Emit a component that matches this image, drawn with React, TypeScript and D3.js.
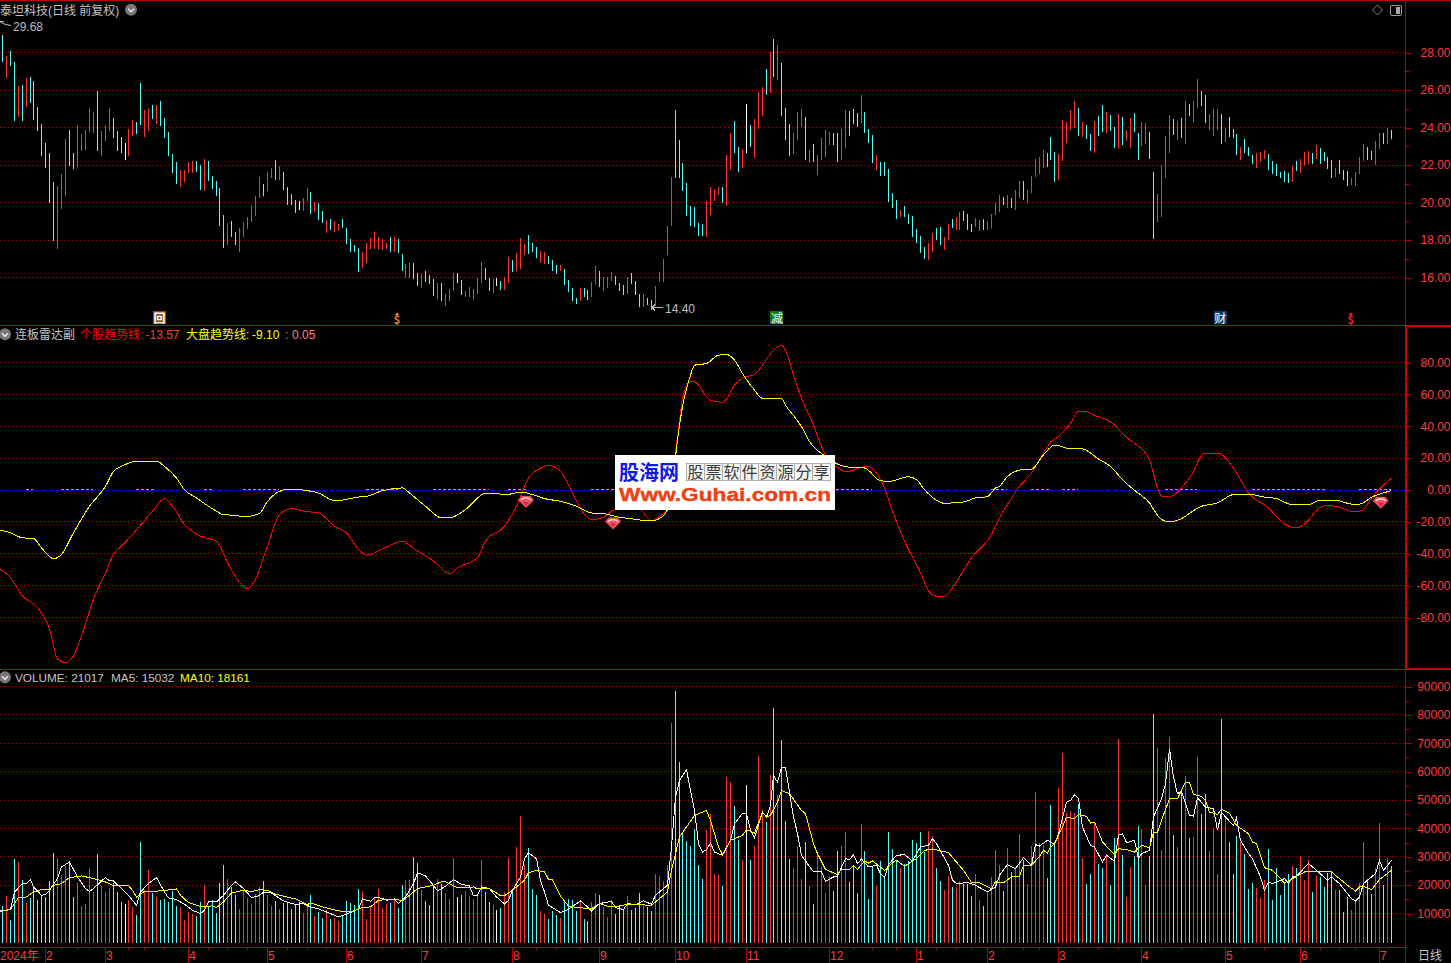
import { useEffect, useRef } from 'react';
import * as d3 from 'd3';

// Daily high / low, one entry per session (352 sessions)
const highs = [
    28.92, 27.80, 28.07, 27.48, 26.21, 26.26, 26.63, 26.68, 26.47, 25.08,
    24.18, 23.17, 22.63, 21.08, 20.87, 21.51, 23.38, 23.86, 22.63, 24.12,
    23.64, 23.86, 25.03, 24.82, 25.94, 23.80, 24.12, 25.03, 24.50, 23.80,
    23.48, 23.17, 23.91, 24.39, 24.28, 26.36, 24.92, 25.03, 25.19, 25.19,
    25.40, 24.50, 23.75, 22.58, 22.15, 21.72, 21.72, 22.15, 22.20, 22.20,
    21.99, 22.31, 22.20, 21.40, 21.14, 20.76, 19.32, 18.90, 19.00, 18.42,
    18.63, 18.95, 19.22, 19.86, 20.34, 21.35, 20.98, 21.62, 21.83, 22.26,
    21.94, 21.62, 20.82, 20.44, 20.12, 20.07, 20.23, 20.76, 20.55, 20.02,
    19.97, 19.54, 19.06, 19.11, 19.00, 18.84, 19.11, 18.63, 18.04, 17.72,
    17.56, 17.35, 17.83, 18.10, 18.42, 18.15, 18.04, 17.83, 18.15, 18.15,
    18.04, 17.24, 16.71, 16.76, 16.76, 16.23, 16.18, 16.34, 16.12, 15.91,
    15.70, 15.70, 15.11, 15.38, 16.23, 16.23, 15.86, 15.27, 15.48, 15.38,
    15.96, 16.82, 16.50, 15.96, 15.91, 15.96, 15.80, 16.02, 17.08, 16.92,
    17.30, 18.10, 17.78, 18.26, 17.83, 17.62, 17.40, 17.35, 17.14, 16.92,
    16.66, 16.66, 16.44, 15.86, 15.43, 14.90, 15.43, 15.43, 15.32, 15.75,
    16.60, 16.34, 16.02, 16.02, 16.28, 16.07, 15.70, 15.59, 16.02, 16.23,
    15.80, 15.11, 15.11, 14.90, 14.79, 15.54, 16.28, 16.98, 18.74, 21.35,
    24.92, 23.32, 22.10, 21.03, 19.80, 19.75, 18.90, 18.84, 20.07, 20.82,
    20.71, 20.82, 20.82, 22.52, 23.70, 24.34, 22.95, 22.84, 25.24, 24.12,
    24.44, 25.88, 26.15, 27.11, 28.02, 28.71, 28.39, 27.43, 25.03, 24.18,
    23.70, 24.82, 24.98, 24.55, 22.79, 23.11, 22.52, 23.43, 23.86, 23.75,
    23.70, 23.70, 23.91, 24.92, 24.87, 24.98, 24.76, 25.72, 24.82, 23.91,
    23.59, 22.52, 22.15, 22.15, 21.78, 20.50, 20.12, 19.59, 19.80, 19.38,
    19.27, 18.58, 18.20, 17.62, 17.83, 18.36, 18.63, 18.68, 18.15, 18.84,
    19.11, 19.22, 19.48, 19.54, 19.38, 18.84, 19.16, 19.06, 19.11, 19.00,
    19.38, 19.97, 20.39, 20.28, 20.39, 20.23, 20.66, 21.14, 21.14, 20.66,
    21.40, 22.31, 22.42, 22.79, 22.63, 23.48, 22.68, 22.58, 24.39, 24.28,
    24.92, 25.40, 25.03, 24.28, 24.12, 23.64, 24.34, 24.60, 25.19, 24.82,
    24.66, 24.02, 24.71, 24.55, 23.86, 24.50, 24.76, 23.70, 24.28, 24.23,
    23.75, 21.62, 20.44, 21.99, 23.54, 24.66, 24.44, 24.34, 24.50, 25.40,
    25.24, 25.40, 26.58, 25.94, 25.72, 24.71, 24.98, 24.98, 24.71, 23.96,
    24.55, 23.91, 23.64, 22.95, 23.38, 22.95, 22.52, 22.63, 22.68, 22.79,
    22.58, 22.20, 22.04, 21.62, 21.67, 21.56, 21.94, 22.20, 22.31, 22.68,
    22.74, 22.63, 23.06, 22.90, 22.68, 22.42, 22.26, 21.83, 22.26, 21.72,
    21.67, 21.30, 21.62, 22.42, 23.11, 22.95, 22.74, 23.27, 23.70, 23.70,
    23.96, 23.86,
];
const lows = [
    27.50, 26.65, 27.29, 24.36, 24.57, 24.36, 25.10, 25.32, 24.41, 23.82,
    22.49, 21.85, 19.98, 17.95, 17.53, 19.66, 20.35, 21.94, 21.79, 21.90,
    22.74, 22.79, 23.75, 23.71, 22.74, 22.49, 23.29, 23.82, 23.45, 22.74,
    22.63, 22.26, 22.47, 23.54, 23.64, 24.12, 23.48, 23.80, 24.44, 24.18,
    24.07, 23.43, 22.47, 21.58, 20.98, 20.82, 21.08, 21.56, 21.56, 21.62,
    20.66, 20.60, 21.14, 20.71, 20.34, 18.74, 17.56, 17.72, 18.15, 17.72,
    17.35, 18.15, 18.58, 18.95, 19.27, 20.23, 20.34, 20.60, 21.30, 21.19,
    21.19, 20.66, 19.86, 19.86, 19.43, 19.59, 19.54, 20.07, 19.38, 19.48,
    19.06, 18.90, 18.36, 18.52, 18.42, 18.47, 18.63, 17.78, 17.35, 17.35,
    16.28, 16.50, 16.76, 17.51, 17.51, 17.51, 17.46, 17.51, 17.35, 17.35,
    17.30, 16.34, 15.96, 15.96, 15.91, 15.54, 15.43, 15.75, 15.64, 15.00,
    14.84, 14.74, 14.47, 14.74, 15.27, 15.70, 15.06, 14.95, 14.95, 14.79,
    15.11, 15.70, 15.86, 15.27, 15.16, 15.54, 15.32, 15.32, 15.70, 16.28,
    16.34, 16.44, 17.19, 17.24, 17.35, 17.03, 16.76, 16.71, 16.71, 16.34,
    16.18, 16.34, 15.59, 15.22, 14.74, 14.58, 14.74, 14.95, 14.79, 14.95,
    15.64, 15.48, 15.27, 15.43, 15.80, 15.59, 15.27, 15.06, 15.11, 15.64,
    15.06, 14.42, 14.42, 14.52, 14.26, 14.47, 15.75, 15.75, 17.19, 18.74,
    21.30, 21.30, 20.60, 19.27, 18.74, 18.68, 18.20, 18.20, 18.15, 19.32,
    20.07, 20.39, 19.97, 19.80, 21.72, 22.63, 21.62, 21.83, 22.63, 22.95,
    22.36, 23.91, 24.60, 25.72, 25.83, 26.68, 26.52, 24.60, 23.32, 22.47,
    22.58, 23.32, 24.02, 22.26, 22.10, 22.15, 21.46, 22.26, 22.42, 23.06,
    23.06, 22.15, 22.26, 22.90, 23.54, 24.18, 24.02, 24.23, 23.70, 23.17,
    22.10, 21.72, 21.40, 21.40, 20.02, 19.70, 19.11, 19.22, 19.22, 18.84,
    18.15, 17.83, 17.30, 16.98, 16.92, 17.35, 17.99, 17.72, 17.46, 17.99,
    18.63, 18.52, 18.52, 19.00, 18.52, 18.42, 18.68, 18.47, 18.52, 18.52,
    18.63, 19.32, 19.48, 19.86, 19.70, 19.70, 19.59, 20.23, 20.12, 19.97,
    20.50, 21.35, 21.51, 21.83, 21.88, 22.26, 21.08, 21.19, 22.20, 23.17,
    23.86, 23.96, 23.54, 23.48, 23.38, 22.74, 22.63, 23.54, 23.75, 23.70,
    23.80, 22.90, 22.84, 23.06, 23.27, 22.90, 23.75, 22.26, 23.00, 23.11,
    22.31, 18.04, 18.95, 19.22, 21.30, 22.63, 23.59, 23.32, 23.43, 23.11,
    24.60, 24.28, 25.03, 25.14, 24.23, 23.86, 23.54, 23.86, 23.11, 23.22,
    23.48, 23.43, 22.52, 22.26, 22.63, 22.47, 22.04, 21.83, 22.15, 22.31,
    21.72, 21.51, 21.40, 21.30, 21.08, 21.03, 21.08, 21.67, 21.56, 21.94,
    22.04, 22.04, 22.31, 22.04, 22.20, 21.78, 21.30, 21.35, 21.51, 21.19,
    20.87, 20.92, 20.87, 21.51, 22.20, 22.26, 22.26, 21.99, 22.84, 23.11,
    23.11, 23.38,
];
// c = down (cyan), r = up (red), w = flat (white)
const sessionKinds = (
    "crccrcrccc" + "ccccrrrccr" + "rrrrcrrrcc" + "cwrrccrrcr" + "cccccrrrrc" +
    "crcccccrcc" + "rrrrrrcrrc" + "rccccwrrcr" + "ccrcrrcccc" + "crrrrrrrcr" +
    "ccrrccrccc" + "rcrrrwcrrr" + "rrccrwcrrc" + "rrrcccrrcc" + "crccccrccr" +
    "rcrrrcccrc" + "ccrccrrrrr" + "ccccccccrr" + "rrcrrccrwc" + "rrrcrcrccc" +
    "rrrcrcrrrr" + "ccrrcccrcc" + "crcccccrcc" + "ccccrrccrr" + "crrcccrrcr" +
    "rrrcrcrrcr" + "rrrrcccrrr" + "rrcrccrccr" + "ccrcrrccrr" + "ccrrrrcrcr" +
    "crrccrrrcr" + "cccrcccrrr" + "ccccccrcrr" + "rcrccccrcc" + "crrrrccrrcrc"
).split("");

const volumes = [
    12550, 16070, 7625, 29090, 28035, 21700, 13610, 15370, 19590, 14660,
    16070, 15720, 21350, 31200, 29440, 23460, 26630, 28150, 15720, 20640,
    12550, 13250, 25920, 17480, 30850, 19590, 17480, 18890, 20640, 17480,
    13960, 13250, 14660, 12200, 9380, 35070, 18180, 25220, 17130, 15720,
    14660, 15010, 13960, 17830, 12550, 12200, 7625, 10440, 9740, 9030,
    13960, 19940, 12200, 14660, 10090, 20640, 26980, 22050, 19240, 16420,
    11500, 18180, 15370, 13250, 16770, 19240, 21350, 16420, 12550, 14310,
    11500, 13610, 13960, 11500, 13250, 13960, 10090, 12550, 16420, 9030,
    10440, 8330, 11140, 7980, 8330, 7270, 9380, 14310, 13610, 12900,
    18530, 17830, 7980, 12200, 15720, 18530, 11850, 13250, 13610, 15370,
    11850, 19940, 21700, 21700, 29790, 27680, 18180, 14310, 12900, 19940,
    22050, 20290, 17130, 15010, 29440, 15720, 16420, 17830, 16070, 15010,
    16070, 28740, 17480, 13960, 12900, 11140, 11850, 17480, 29440, 17830,
    33310, 44220, 26980, 32960, 18530, 16420, 10790, 9740, 7980, 10790,
    9380, 8330, 14660, 15010, 14660, 10790, 14660, 7980, 7270, 13960,
    17130, 16420, 12200, 8680, 14660, 9740, 12900, 11140, 16070, 11140,
    11850, 17130, 12900, 12200, 10790, 23810, 23110, 21470, 26980, 77300,
    88560, 63220, 37890, 35420, 33660, 39650, 26980, 22050, 39300, 44930,
    23810, 23460, 19590, 57950, 56190, 47740, 35780, 28740, 55130, 28740,
    33660, 65340, 46330, 42110, 58650, 82580, 51610, 70970, 42460, 29090,
    25920, 33660, 22050, 35070, 19590, 13250, 31200, 26280, 17130, 23110,
    17830, 31900, 33660, 38590, 20990, 26630, 17130, 41410, 31900, 15010,
    26630, 19590, 28390, 22760, 38590, 32610, 28390, 25920, 27330, 28390,
    35780, 34720, 38590, 31550, 38940, 37180, 25920, 21350, 18180, 23110,
    19240, 19240, 21350, 20290, 20290, 16070, 23810, 14660, 12550, 17830,
    22760, 32260, 26980, 17830, 32960, 24520, 26280, 37890, 28740, 20290,
    33660, 52670, 34720, 34020, 22400, 48090, 34020, 54080, 66740, 45280,
    45980, 45280, 48440, 29440, 20290, 23810, 41760, 27330, 25920, 30850,
    19940, 36480, 71670, 30500, 15720, 26280, 30150, 40700, 39650, 19940,
    30150, 80470, 68150, 32260, 64630, 72370, 37540, 33310, 53370, 58300,
    36480, 36830, 64980, 44930, 51960, 31900, 40000, 23810, 78710, 43870,
    35070, 23810, 37180, 35070, 30850, 18530, 20640, 18890, 15370, 21700,
    32610, 14660, 25920, 16420, 20990, 23810, 26630, 25920, 30150, 21700,
    28740, 17480, 23110, 22760, 19240, 24160, 24870, 18180, 18180, 10440,
    15720, 11140, 14660, 20640, 35070, 22050, 16770, 25920, 41760, 19940,
    29440, 26630,
];

// Moving averages at the sessions where they bend.
// Session -1 is the one just off the left edge.
const ma5Sessions = [
    -1, 2, 3, 5, 6, 7, 8, 10, 11, 12, 14, 15, 17, 19, 21, 22, 23, 25, 26, 27, 28, 30, 32, 33, 34, 35, 37, 39, 41, 42,
    44, 46, 48, 50, 51, 52, 54, 56, 58, 59, 61, 63, 65, 66, 68, 71, 74, 76, 78, 80, 83, 85, 88,
    90, 91, 93, 94, 96, 97, 99, 100, 102, 104, 105, 107, 109, 110, 112, 114, 116, 118, 119, 120, 121, 123, 125, 127, 128,
    129, 131, 132, 133, 135, 136, 137, 138, 139, 141, 143, 144, 146, 148, 149, 151, 154, 155, 157, 158, 160, 162, 164,
    165, 168, 169, 170, 171, 173, 175, 176,
    177, 178, 179, 180, 182, 184, 185, 187, 188, 189, 190, 192, 193, 194, 195, 196, 197, 198, 200, 201, 202, 205, 207,
    208, 210, 211, 213, 214, 215, 216, 217, 219, 221, 222, 223, 224, 226, 228, 230, 232, 234, 235, 236, 239, 240, 241,
    244, 246, 249, 251, 252, 254, 256, 258, 260, 261, 262, 264,
    266, 267, 269, 270, 271, 272, 273, 275, 276, 278, 279, 281, 282, 283, 284, 286, 287, 288, 290, 291, 293, 294, 295,
    296, 297, 298, 300, 301, 302, 304, 306, 307, 308, 309, 311, 312, 313, 315, 316, 318, 319, 320, 321, 324, 325, 326,
    327, 329, 330, 332, 335, 336, 338, 341, 342, 343, 344, 347, 348, 349, 351,
];
const ma5Values = [
    10910, 11380, 17600, 20530, 20530, 21940, 19360, 16420, 16770, 18180, 22290, 26390, 28150, 22870, 18770, 17710, 18770,
    21470, 22640, 21470, 21470, 18770, 16420, 14660, 12900, 17600, 20530, 22640, 17600, 15480,
    14900, 13250, 11140, 9970, 11140, 14080, 14080, 16420, 19940, 21110, 18770, 15600, 16300, 17600, 17240, 14430, 13140,
    13490, 12320, 11610, 9970, 8800, 10320,
    11610, 15130, 14310, 15720, 15370, 14660, 15130, 13490, 15840, 20530, 24400, 23230, 19940, 17950, 19590, 21940, 20290,
    19710, 16190, 16420, 19360, 18770, 15840, 13370, 14660,
    18180, 22870, 29210, 31440, 29330, 21700, 17600, 12900, 12080, 10320, 11500, 12550, 14430, 12320, 10910, 13490, 14310,
    12080, 11380, 13490, 13140, 14430, 13250,
    16420, 19940, 33430, 51030, 56890, 60640, 46330, 34600,
    31670, 32490, 34840, 31670, 30500, 35780, 41640, 45400, 45160, 39300, 36600, 45750, 43990, 48090, 58650, 56300, 61350,
    61350, 43990, 38120, 30500, 24630, 24870,
    21350, 22870, 23110, 29330, 28970, 30730, 27570, 29210, 26390, 26980, 24050, 22640, 27210, 30500, 30730, 28500, 33430,
    34020, 36360, 34600, 26980, 21700, 20530,
    20880, 19940, 17600, 19360, 23460, 27210, 25810, 29680, 26980, 34250, 33780, 35780,
    34370, 38120, 49270, 49850, 51850, 50440, 40470, 34020, 33430, 28150, 30500, 28390, 37540, 38120, 34960, 35780, 29330,
    31090, 32260, 43990, 50440, 55720, 68030,
    58060, 52200, 53140, 44580, 44340, 50790, 47510, 46920, 39300, 45750, 43990, 41050, 43750, 35780, 31090, 29330, 22870,
    18180, 21110, 20530, 22290, 20530, 22870,
    23110, 26160, 27570, 25220, 21700, 22870, 20530, 15250, 14430, 15840, 20530, 24050, 28740, 25220, 28740,
];
const ma10Sessions = [
    -1, 2, 4, 6, 8, 10, 12, 13, 15, 17, 20, 22, 24, 26, 28, 32, 33, 34, 36, 40, 44, 45, 47, 50, 53, 54, 56, 58, 61, 63, 65,
    67, 69, 74, 77, 78, 81, 85, 88,
    91, 93, 95, 99, 101, 105, 109, 111, 112, 115, 117, 119, 120, 123, 126, 127, 129, 132, 133, 135, 137, 138, 139, 141,
    143, 145, 149, 151, 153, 155, 158, 164, 168, 169, 171, 175, 176,
    178, 179, 181, 182, 184, 187, 188, 190, 192, 193, 194, 196, 197, 199, 202, 203, 205, 206, 208, 211, 212, 214, 215,
    216, 218, 219, 220, 223, 225, 226, 228, 231, 233, 235, 239, 243, 245, 247, 250, 251, 253, 255, 257, 258, 260, 262,
    263, 264,
    265, 266, 268, 269, 271, 272, 274, 275, 276, 278, 281, 282, 284, 286, 288, 290, 291, 292, 293, 295, 297, 299, 300,
    301, 303, 304, 305, 307, 308, 310, 312, 315, 316, 317, 319, 321, 324, 326, 329, 332, 336, 340, 342, 343, 344, 346,
    348, 351,
];
const ma10Values = [
    10560, 11380, 15600, 15840, 17600, 18420, 18420, 19940, 20530, 22640, 23230, 22640, 21940, 21110, 19820, 19820, 18180,
    15840, 17830, 17950, 18650, 16420, 13840, 12430, 12670, 12080, 14080, 17240, 18180, 17710, 18420,
    18180, 16770, 15130, 13140, 13720, 12320, 10910, 10560,
    12080, 12320, 14660, 15130, 14430, 18770, 19940, 21230, 21230, 19120, 19120, 19360, 18650, 18770, 16300, 16300, 18180,
    21700, 24400, 25220, 24630, 22050, 21940, 16070,
    12670, 12080, 11730, 13490, 12550, 12320, 13250, 12900, 17600, 25220, 36950, 44580, 45160,
    46330, 42820, 33430, 30850, 35780, 37540, 39530, 38360, 45750, 43990, 44580, 49270, 53370, 52200, 46330, 45160, 34600,
    31090, 25570, 23690, 25570, 25570, 26980,
    25570, 28500, 27800, 28500, 25220, 27920, 28740, 26630, 29330, 32260, 32730, 31440, 25220, 20880, 20880, 18770, 21230,
    20880, 22870, 23110, 26980, 26980, 30150,
    32260, 31320,
    33430, 34600, 40470, 43990, 43400, 44930, 44220, 41880, 42230, 35190, 30730, 32840, 32490, 31670, 34020, 33200, 38710,
    38710, 42820, 50440, 50440, 56300, 56300,
    51960, 51260, 49850, 45750, 44930, 46690, 45400, 41050, 38120, 35190, 34600, 26160, 25220, 20760, 22290, 24630, 24630,
    24630, 19940, 17950, 19360, 19590, 18420,
    21940, 25220,
];

// 个股趋势线 / 大盘趋势线
const stockTrendSessions = [
    -1, 2, 5, 9, 12, 14, 16, 18, 20, 23, 26, 28, 30, 33, 38, 41, 43, 46, 50, 54, 57, 60, 62, 64, 67, 70, 73, 76, 80, 84,
    87, 90, 92, 97, 101, 104, 109, 113, 115, 120, 122, 127, 130, 133, 136, 138, 141, 144, 147, 149, 152,
    155, 161, 164, 166, 168, 170, 171, 172, 174, 175, 178, 179, 182, 183, 185, 187, 190, 192, 195, 197, 198, 200, 202,
    205, 207, 209, 211, 213, 217, 219, 221, 223, 225, 228, 232, 234, 236, 238, 240, 245, 250, 252,
    255, 257, 260, 263, 265, 267, 270, 272, 274, 276, 280, 284, 286, 290, 292, 293, 295, 298, 301, 303, 304, 307, 311,
    315, 320, 324, 327, 329, 333, 335, 337, 342, 344, 346, 351,
];
const stockTrend = [
    -48.8, -55.0, -66.5, -73.8, -87.3, -106.0, -108.3, -104.0, -91.5, -68.5, -51.9, -40.4, -35.2, -27.9, -13.3, -5.4,
    -10.2, -21.7, -29.0, -32.1, -45.6, -58.1, -61.9, -56.0, -35.2, -15.4, -11.7, -13.3, -14.4, -22.7,
    -26.9, -37.3, -40.8, -35.8, -32.1, -36.7, -44.6, -52.5, -48.8, -42.5, -32.1, -22.7, -10.2, 7.5, 13.8, 15.4, 11.7,
    -1.9, -15.4, -18.5, -17.1,
    -12.3, -12.3, -19.2, -16.5, -12.3, 24.2, 42.9, 57.5, 67.9, 67.9, 58.5, 56.3, 55.0, 57.1, 65.8, 70.4, 72.5, 78.3, 87.7,
    90.8, 87.7, 72.1, 57.5, 40.8, 27.3, 17.9, 14.2, 11.3, 14.2, 14.8, 10.6, 1.3, -13.3, -32.1, -51.9, -63.3, -66.7, -67.1,
    -61.3, -42.5, -27.9, -17.5,
    -5.0, 2.3, 10.6, 23.1, 30.0, 33.5, 41.9, 49.2, 49.2, 46.7, 42.9, 32.9, 29.4, 19.0, 1.3, -4.0, -4.4, 1.3, 11.7, 21.7,
    23.1, 23.1, 13.8, -1.9, -11.3, -21.3, -23.8, -21.3, -10.8, -9.8, -10.2, -13.8, -12.3, -5.0, 7.5,
];
const marketTrendSessions = [
    -1, 2, 5, 8, 10, 13, 15, 18, 22, 26, 28, 30, 34, 39, 41, 44, 46, 49, 54, 56, 59, 61, 65, 67, 72, 74, 77, 80, 84, 86,
    90, 92, 96, 101, 103, 107, 111, 113, 117, 122, 125, 127, 131, 134, 137, 141, 145, 149, 152,
    156, 159, 164, 166, 168, 170, 171, 174, 175, 178, 181, 183, 185, 187, 190, 192, 197, 198, 202, 204, 208, 211, 214,
    218, 222, 224, 229, 231, 233, 238, 243, 246, 249, 251,
    252, 254, 257, 260, 263, 266, 267, 269, 273, 277, 280, 283, 286, 290, 292, 294, 296, 303, 307, 311, 315, 319, 322,
    326, 330, 333, 337, 341, 343, 346, 351,
];
const marketTrend = [
    -24.8, -26.9, -30.0, -30.4, -36.3, -43.1, -40.4, -26.9, -10.2, 2.3, 11.7, 14.8, 18.1, 18.1, 14.8, 7.5, 0.2, -5.0,
    -13.3, -15.6, -15.8, -16.9, -14.6, -7.1, 0.4, 0.4, -0.4, -1.9, -6.7, -6.3,
    -4.4, -4.0, -0.4, 1.3, -1.9, -10.2, -17.5, -17.5, -12.3, -2.1, -2.1, -3.1, -1.3, -2.9, -5.4, -7.1, -10.2, -14.4, -14.8,
    -17.1, -18.1, -19.4, -17.9, -12.3, 21.0, 40.8, 72.1, 78.3, 79.4, 84.6, 85.0, 81.5, 73.1, 62.7, 57.5, 57.5, 53.3, 39.8,
    30.4, 21.0, 16.3, 14.2, 13.8, 5.8, 5.4, 8.3, 6.5, 0.2, -8.3, -7.5, -5.0, -4.2, 1.3,
    2.3, 8.5, 12.5, 13.1, 22.1, 28.1, 27.9, 26.3, 25.8, 19.4, 14.8, 6.5, -0.2, -8.1, -15.8, -19.6, -19.6, -10.2, -8.1,
    -2.9, -2.7, -4.4, -5.4, -9.2, -9.2, -6.3, -6.3, -8.8, -8.8, -4.6, -0.4,
];
// Sessions where the third output (the salmon dashes near zero) is drawn
const signalStarts = [6, 15, 34, 51, 61, 92, 109, 128, 149, 250, 260, 268, 294, 316, 343];
const signalEnds = [8, 23, 39, 53, 70, 100, 123, 133, 220, 254, 265, 272, 302, 335, 351];
const gemSessions = [132, 154, 348];
const gemValues = [-7.5, -21, -8];

const priceTicks = [16, 18, 20, 22, 24, 26, 28];
const priceMinorTicks = [17, 19, 21, 23, 25, 27];
const trendTicks = [-80, -60, -40, -20, 0, 20, 40, 60, 80];
const trendMinorTicks = [-70, -50, -30, -10, 10, 30, 50, 70];
const volumeTicks = [10000, 20000, 30000, 40000, 50000, 60000, 70000, 80000, 90000];
const volumeMinorTicks = [15000, 25000, 35000, 45000, 55000, 65000, 75000, 85000];

const monthSessions = [11, 26, 47, 67, 87, 106, 129, 151, 170, 188, 209, 231, 249, 267, 288, 309, 328, 348];
const monthLabels = ["2", "3", "4", "5", "6", "7", "8", "9", "10", "11", "12", "1", "2", "3", "4", "5", "6", "7"];
const minorSessions = [
    15, 19, 22, 32, 36, 41, 52, 57, 62, 72, 77, 82, 91, 96, 101, 112, 118, 123, 135, 140, 146, 156, 161, 165,
    180, 184, 192, 199, 204, 215, 220, 226, 236, 241, 245, 253, 258, 262, 272, 277, 282, 293, 298, 303, 314,
    319, 324, 333, 338, 342,
];

const eventSessions = [40, 100, 196, 308, 341];
const eventGlyphs = ["回", "$", "减", "财", "$"];
const eventFills = ["#8B4A10", "none", "#0A7A0A", "#0A3A6A", "none"];
const eventColors = ["#FFFFFF", "#FF7F33", "#FFFFFF", "#FFFFFF", "#FF1E1E"];

const tileChars = ["股", "票", "软", "件", "资", "源", "分", "享"];

const FONT = "'Liberation Sans', 'Noto Sans CJK SC', sans-serif";
const CJK = "'Noto Sans CJK SC', 'Liberation Sans', sans-serif";
const BAR_COLORS: Record<string, string> = { c: "#54FCFC", r: "#FF3232", w: "#FFFFFF" };
const FRAME = "#B40000";
const GRID = "#A80000";
const AXIS_TEXT = "#FF3C3C";
const GREY = "#C4C4C4";

export default function App() {
    const svgRef = useRef<SVGSVGElement>(null);

    useEffect(() => {
        if (!svgRef.current) return;

        document.body.style.margin = "0";
        document.body.style.background = "#000";
        document.body.style.overflow = "hidden";

        const svg = d3.select(svgRef.current);
        svg.selectAll("*").remove();

        const width = 1451;
        const height = 963;
        const axisX = 1405;

        const x = d3.scaleLinear().domain([0, 351]).range([2.33, 1391.3]);
        const barX = (i: number) => Math.floor(x(i));

        const priceY = d3.scaleLinear().domain([16, 28]).range([277.5, 52.5]);
        const trendY = d3.scaleLinear().domain([-80, 80]).range([617.5, 362.5]);
        const volumeY = d3.scaleLinear().domain([10000, 90000]).range([913.5, 686.5]);
        const volumeBase = 943;

        svg.append("rect").attr("width", width).attr("height", height).attr("fill", "#000");

        // Dotted grids
        const drawGrid = (ticks: number[], y: d3.ScaleLinear<number, number>) => {
            svg.append("g")
                .selectAll("line")
                .data(ticks)
                .join("line")
                .attr("x1", 0)
                .attr("x2", axisX)
                .attr("y1", d => y(d))
                .attr("y2", d => y(d))
                .attr("stroke", GRID)
                .attr("stroke-dasharray", "1,3")
                .attr("shape-rendering", "crispEdges");
        };
        drawGrid(priceTicks, priceY);
        drawGrid(trendTicks.filter(d => d !== 0), trendY);
        drawGrid(volumeTicks, volumeY);

        // Price bars
        svg.append("g")
            .selectAll("rect")
            .data(highs)
            .join("rect")
            .attr("x", (d, i) => barX(i))
            .attr("y", d => priceY(d))
            .attr("width", 1)
            .attr("height", (d, i) => priceY(lows[i]) - priceY(d))
            .attr("fill", (d, i) => BAR_COLORS[sessionKinds[i]])
            .attr("shape-rendering", "crispEdges");

        // Volume bars
        svg.append("g")
            .selectAll("rect")
            .data(volumes)
            .join("rect")
            .attr("x", (d, i) => barX(i))
            .attr("y", d => volumeY(d))
            .attr("width", 1)
            .attr("height", d => volumeBase - volumeY(d))
            .attr("fill", (d, i) => BAR_COLORS[sessionKinds[i]])
            .attr("shape-rendering", "crispEdges");

        // Zero line and the salmon signal dashes
        svg.append("line")
            .attr("x1", 0)
            .attr("x2", axisX)
            .attr("y1", trendY(0) + 0.5)
            .attr("y2", trendY(0) + 0.5)
            .attr("stroke", "#0000E0")
            .attr("stroke-dasharray", "5,2")
            .attr("shape-rendering", "crispEdges");
        svg.append("g")
            .selectAll("line")
            .data(signalStarts)
            .join("line")
            .attr("x1", d => barX(d))
            .attr("x2", (d, i) => barX(signalEnds[i]))
            .attr("y1", trendY(0.3))
            .attr("y2", trendY(0.3))
            .attr("stroke", "#FF8080")
            .attr("stroke-dasharray", "3,2")
            .attr("shape-rendering", "crispEdges");

        // Line series
        const drawLine = (
            sessions: number[],
            values: number[],
            y: d3.ScaleLinear<number, number>,
            color: string,
            curve: d3.CurveFactory
        ) => {
            const line = d3.line<number>()
                .x((d, i) => barX(sessions[i]) + 0.5)
                .y(d => y(d))
                .curve(curve);
            svg.append("path")
                .attr("d", line(values))
                .attr("fill", "none")
                .attr("stroke", color)
                .attr("stroke-width", 1)
                .attr("shape-rendering", "crispEdges");
        };
        drawLine(stockTrendSessions, stockTrend, trendY, "#FF0000", d3.curveMonotoneX);
        drawLine(marketTrendSessions, marketTrend, trendY, "#FFFF00", d3.curveMonotoneX);
        drawLine(ma5Sessions, ma5Values, volumeY, "#FFFFFF", d3.curveLinear);
        drawLine(ma10Sessions, ma10Values, volumeY, "#FFFF00", d3.curveLinear);

        // Gem markers
        const gems = svg.append("g")
            .selectAll("g")
            .data(gemSessions)
            .join("g")
            .attr("transform", (d, i) => `translate(${x(d) + 1.3},${trendY(gemValues[i])})`);
        gems.append("path")
            .attr("d", "M-4.5,-6 L4.5,-6 L8,-2 L0,6 L-8,-2 Z")
            .attr("fill", "#F0505F");
        gems.append("path")
            .attr("d", "M-5,-2 Q0,-6 5,-2")
            .attr("fill", "none")
            .attr("stroke", "#FFE0E0")
            .attr("stroke-width", 1.3);
        gems.append("path")
            .attr("d", "M-3,0 L3,0 L0,4 Z")
            .attr("fill", "#D8283C");

        // Watermark
        const mark = svg.append("g");
        mark.append("rect").attr("x", 615).attr("y", 455).attr("width", 220).attr("height", 55).attr("fill", "#FFFFFF");
        mark.append("text")
            .attr("x", 619)
            .attr("y", 480)
            .attr("font-family", CJK)
            .attr("font-weight", 700)
            .attr("font-size", 20)
            .attr("fill", "#1018E8")
            .text("股海网");
        const tiles = mark.selectAll("g")
            .data(tileChars)
            .join("g")
            .attr("transform", (d, i) => `translate(${686.5 + i * 18},463.5)`);
        tiles.append("rect")
            .attr("width", 18)
            .attr("height", 17)
            .attr("fill", "#F4F4F4")
            .attr("stroke", "#B0B0B0")
            .attr("shape-rendering", "crispEdges");
        tiles.append("text")
            .attr("x", 9)
            .attr("y", 14.5)
            .attr("text-anchor", "middle")
            .attr("font-family", CJK)
            .attr("font-size", 16)
            .attr("fill", "#3C3C3C")
            .text(d => d);
        mark.append("text")
            .attr("x", 619)
            .attr("y", 501)
            .attr("font-family", FONT)
            .attr("font-weight", 700)
            .attr("font-size", 19)
            .attr("textLength", 212)
            .attr("lengthAdjust", "spacingAndGlyphs")
            .attr("fill", "#F04010")
            .attr("stroke", "#F04010")
            .attr("stroke-width", 0.4)
            .text("Www.Guhai.com.cn");

        // Panel frames
        const frameLine = (x1: number, y1: number, x2: number, y2: number, color = FRAME, w = 1) => {
            svg.append("line")
                .attr("x1", x1).attr("y1", y1).attr("x2", x2).attr("y2", y2)
                .attr("stroke", color)
                .attr("stroke-width", w)
                .attr("shape-rendering", "crispEdges");
        };
        frameLine(0, 0.5, width, 0.5);
        frameLine(0, 325.5, width, 325.5);
        frameLine(0, 669.5, width, 669.5);
        frameLine(0, 947.5, axisX, 947.5);
        frameLine(axisX + 0.5, 0, axisX + 0.5, height);
        frameLine(axisX + 1, 326, axisX + 1, 669, "#CC0000", 2);
        frameLine(axisX, 326, width, 326, "#CC0000", 2);
        frameLine(axisX, 669, width, 669, "#CC0000", 2);

        // Right axes
        const drawAxis = (
            y: d3.ScaleLinear<number, number>,
            major: number[],
            minor: number[],
            format: (d: number) => string
        ) => {
            const g = svg.append("g").attr("transform", `translate(${axisX + 0.5},0)`);
            g.append("g")
                .call(d3.axisRight(y).tickValues(minor).tickSize(3).tickFormat(() => ""))
                .call(a => a.select(".domain").remove())
                .call(a => a.selectAll("line").attr("stroke", FRAME).attr("shape-rendering", "crispEdges"));
            g.append("g")
                .call(d3.axisRight(y).tickValues(major).tickSize(6).tickFormat(d => format(d as number)))
                .call(a => a.select(".domain").remove())
                .call(a => a.selectAll("line").attr("stroke", FRAME).attr("shape-rendering", "crispEdges"))
                .call(a => a.selectAll("text")
                    .attr("x", 45)
                    .attr("text-anchor", "end")
                    .attr("fill", AXIS_TEXT)
                    .style("font-family", FONT)
                    .style("font-size", "12px"));
        };
        drawAxis(priceY, priceTicks, priceMinorTicks, d => d.toFixed(2));
        drawAxis(trendY, trendTicks, trendMinorTicks, d => d.toFixed(2));
        drawAxis(volumeY, volumeTicks, volumeMinorTicks, d => String(d));

        // Bottom time axis
        const timeAxis = svg.append("g");
        timeAxis.selectAll("line.major")
            .data(monthSessions)
            .join("line")
            .attr("class", "major")
            .attr("x1", d => barX(d) + 0.5)
            .attr("x2", d => barX(d) + 0.5)
            .attr("y1", 947)
            .attr("y2", height)
            .attr("stroke", FRAME)
            .attr("shape-rendering", "crispEdges");
        timeAxis.selectAll("line.minor")
            .data(minorSessions)
            .join("line")
            .attr("class", "minor")
            .attr("x1", d => barX(d) + 0.5)
            .attr("x2", d => barX(d) + 0.5)
            .attr("y1", 947)
            .attr("y2", 950)
            .attr("stroke", FRAME)
            .attr("shape-rendering", "crispEdges");
        timeAxis.selectAll("text")
            .data(monthSessions)
            .join("text")
            .attr("x", d => barX(d) + 1)
            .attr("y", 960)
            .attr("fill", AXIS_TEXT)
            .attr("font-family", FONT)
            .attr("font-size", 12)
            .text((d, i) => monthLabels[i]);

        const label = (tx: number, ty: number, text: string, color: string, size = 12) => {
            svg.append("text")
                .attr("x", tx)
                .attr("y", ty)
                .attr("fill", color)
                .attr("font-family", FONT)
                .attr("font-size", size)
                .text(text);
        };
        label(0, 960, "2024年", AXIS_TEXT);
        label(1418, 960, "日线", GREY);

        // Titles
        const chevron = (cx: number, cy: number) => {
            svg.append("circle").attr("cx", cx).attr("cy", cy).attr("r", 6).attr("fill", "#777777");
            svg.append("path")
                .attr("d", `M${cx - 3},${cy - 1} L${cx},${cy + 2} L${cx + 3},${cy - 1}`)
                .attr("fill", "none")
                .attr("stroke", "#E4E4E4")
                .attr("stroke-width", 1.6);
        };
        label(0, 14.5, "泰坦科技(日线 前复权)", GREY);
        chevron(131, 9.7);
        label(13, 31, "29.68", "#BEBEBE");
        chevron(5, 334.3);
        label(15, 339, "连板雷达副", GREY);
        label(80, 339, "个股趋势线:", "#FF0000");
        label(145.5, 339, "-13.57", "#FF3C3C");
        label(186, 339, "大盘趋势线:", "#FFFF00");
        label(252, 339, "-9.10", "#FFFF00");
        label(285, 339, ":", "#FF8080");
        label(292, 339, "0.05", "#FF8080");
        chevron(5, 677.3);
        label(15, 682, "VOLUME: 21017", GREY, 11.75);
        label(111, 682, "MA5: 15032", GREY, 11.75);
        label(180, 682, "MA10: 18161", "#FFFF00", 11.75);

        // Highest / lowest price notes
        svg.append("path")
            .attr("d", "M0,21.5 L3,23.5 L6,24.5 L11,25.5 M0,21.5 H4")
            .attr("fill", "none")
            .attr("stroke", "#BEBEBE");
        svg.append("path")
            .attr("d", "M652,307.5 H663 M652,307.5 L655,304.5 M652,307.5 L655,310.5")
            .attr("fill", "none")
            .attr("stroke", "#BEBEBE")
            .attr("shape-rendering", "crispEdges");
        label(665, 312.5, "14.40", "#BEBEBE");

        // Window controls
        svg.append("path")
            .attr("d", "M1377.5,5 L1382.5,10 L1377.5,15 L1372.5,10 Z")
            .attr("fill", "none")
            .attr("stroke", "#888888");
        svg.append("rect")
            .attr("x", 1390.5).attr("y", 5.5).attr("width", 11).attr("height", 10).attr("rx", 1.5)
            .attr("fill", "none")
            .attr("stroke", "#999999");
        svg.append("rect")
            .attr("x", 1396).attr("y", 7).attr("width", 4).attr("height", 7)
            .attr("fill", "#AAAAAA");

        // Event markers above the divider
        const events = svg.append("g")
            .selectAll("g")
            .data(eventSessions)
            .join("g")
            .attr("transform", d => `translate(${x(d) - 1},318)`);
        events.append("rect")
            .attr("x", -6.5)
            .attr("y", -7)
            .attr("width", 13)
            .attr("height", 13)
            .attr("fill", (d, i) => eventFills[i])
            .attr("shape-rendering", "crispEdges");
        events.append("text")
            .attr("y", (d, i) => (eventGlyphs[i] === "$" ? 6 : 4.5))
            .attr("text-anchor", "middle")
            .attr("font-family", CJK)
            .attr("font-size", (d, i) => (eventGlyphs[i] === "$" ? 11 : 12))
            .attr("font-weight", (d, i) => (eventGlyphs[i] === "回" || eventGlyphs[i] === "$" ? 700 : 400))
            .attr("fill", (d, i) => eventColors[i])
            .text((d, i) => eventGlyphs[i]);
        events.filter((d, i) => eventGlyphs[i] === "$")
            .append("path")
            .attr("d", "M-2.5,-3 L0,-5.5 L2.5,-3 Z")
            .attr("fill", d => (d === 100 ? "#FF7F33" : "#FF1E1E"));
    }, []);

    return (
        <svg
            ref={svgRef}
            width={1451}
            height={963}
            style={{ position: "absolute", top: 0, left: 0, display: "block" }}
        ></svg>
    );
}
